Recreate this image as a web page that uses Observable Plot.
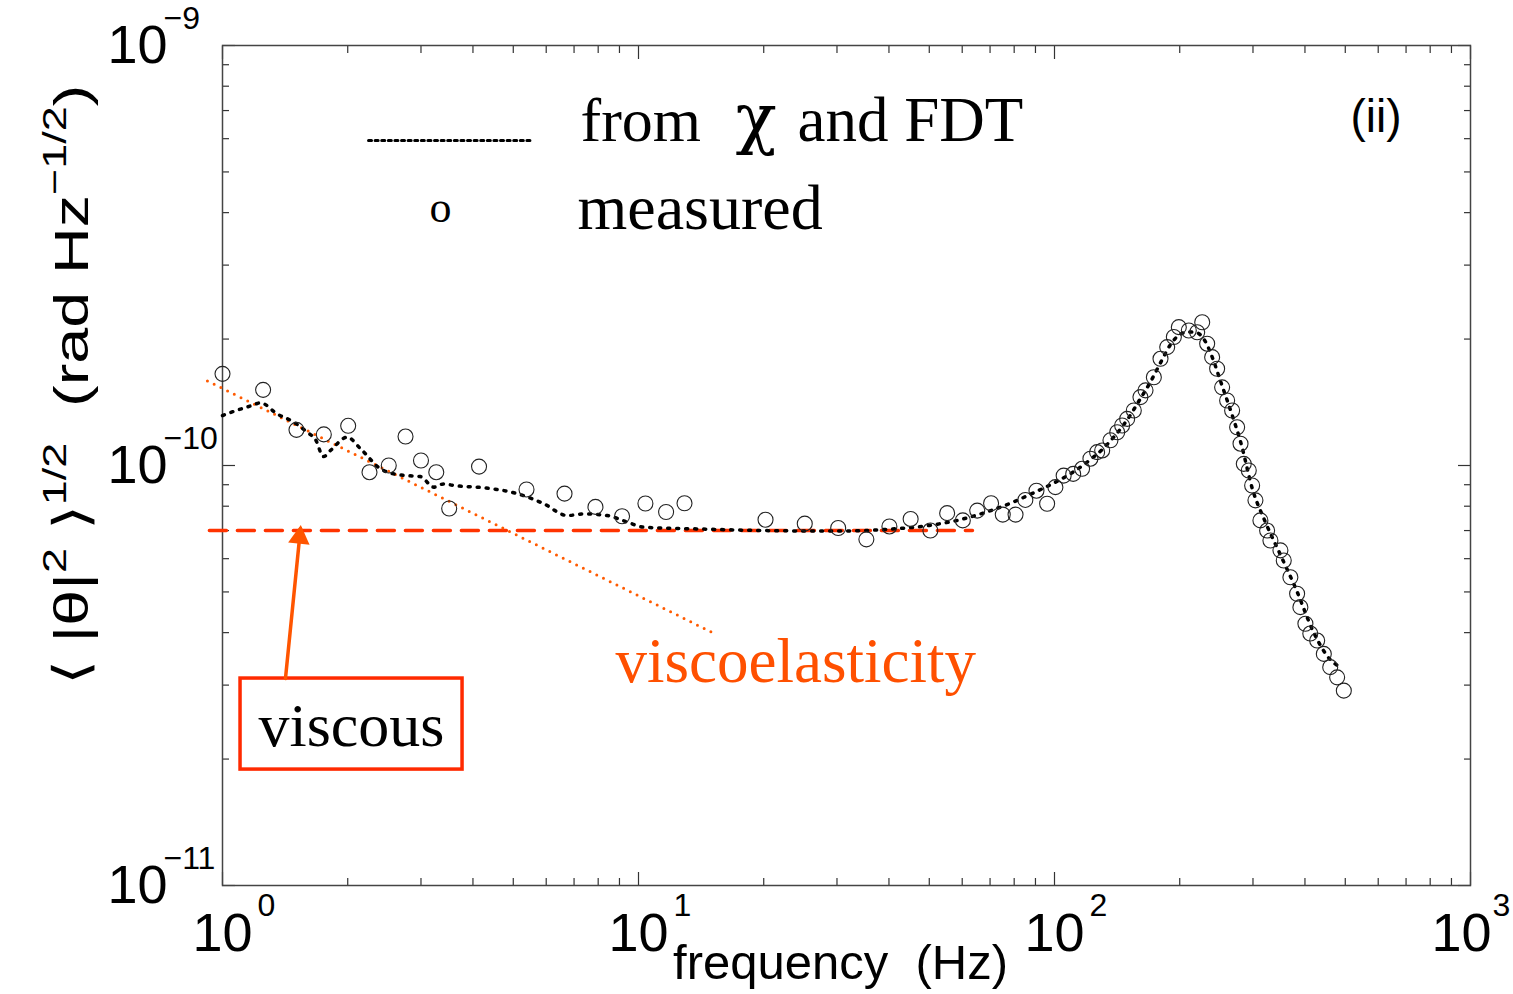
<!DOCTYPE html>
<html><head><meta charset="utf-8">
<script src="https://cdn.jsdelivr.net/npm/d3@7"></script>
<script src="https://cdn.jsdelivr.net/npm/@observablehq/plot@0.6"></script>
<style>body{margin:0;background:#fff}#chart{width:1513px;height:994px}</style>
</head><body><div id="chart"></div>
<script>
// measured spectrum (open circles)
const measuredFreq = [1.0,1.252,1.506,1.752,2.005,2.256,2.51,2.754,3.0,3.265,3.507,4.137,5.38,6.64,7.88,9.13,10.39,11.65,12.9,
  20.2,25.1,30.2,35.3,40.1,45.1,50.3,55.2,60.2,65.2,70.4,75.1,80.6,85.1,90.5,96,100.5,105.2,110.9,116.5,122,126.6,
  130.2,136.3,141.5,145.4,149.5,155.1,160.9,165.5,173.3,179.8,186.6,193.6,199,210.3,220.3,226.5,232.8,239.3,246,252.9,
  260,267.3,274.8,280,285.1,293.1,298.6,304.1,312.6,324.4,330.4,349.2,355.7,369,383,390,401,412,428,444,460,478,496];
const measuredAmp = [1.653e-10,1.514e-10,1.216e-10,1.186e-10,1.243e-10,9.64e-11,1.0e-10,1.172e-10,1.028e-10,9.64e-11,7.9e-11,9.94e-11,8.77e-11,8.57e-11,7.97e-11,7.57e-11,8.12e-11,7.75e-11,8.13e-11,
  7.43e-11,7.27e-11,7.1e-11,6.67e-11,7.16e-11,7.46e-11,7.0e-11,7.7e-11,7.4e-11,7.81e-11,8.13e-11,7.64e-11,7.64e-11,8.28e-11,8.71e-11,8.11e-11,8.88e-11,9.46e-11,9.55e-11,9.82e-11,1.038e-10,1.076e-10,
  1.086e-10,1.148e-10,1.2e-10,1.245e-10,1.291e-10,1.352e-10,1.455e-10,1.51e-10,1.622e-10,1.795e-10,1.914e-10,2.023e-10,2.135e-10,2.096e-10,2.076e-10,2.193e-10,1.95e-10,1.811e-10,1.7e-10,1.535e-10,
  1.428e-10,1.352e-10,1.233e-10,1.127e-10,1.009e-10,9.73e-11,8.96e-11,8.26e-11,7.4e-11,7.0e-11,6.63e-11,6.28e-11,5.94e-11,5.42e-11,4.95e-11,4.6e-11,4.2e-11,3.98e-11,3.83e-11,3.56e-11,3.31e-11,3.13e-11,2.91e-11];
// from chi and FDT (dotted black)
const theoryFreq = [1.0,1.065,1.179,1.234,1.353,1.484,1.598,1.673,1.749,1.818,1.994,2.147,2.398,2.581,2.78,2.99,3.22,3.40,3.6,4.25,5.11,5.92,6.74,7.39,8.41,9.4,10.3,14.1,
  20,30,40,50,60,70,80,90,100,110,120,130,140,150,160,170,180,190,200,210,220,230,240,250,260,270,280,300,320,350,380,420,460,490];
const theoryAmp = [1.315e-10,1.346e-10,1.39e-10,1.41e-10,1.327e-10,1.268e-10,1.2e-10,1.153e-10,1.05e-10,1.086e-10,1.168e-10,1.096e-10,9.82e-11,9.55e-11,9.46e-11,9.41e-11,8.88e-11,9.04e-11,8.96e-11,8.85e-11,8.57e-11,8.11e-11,7.6e-11,7.67e-11,7.6e-11,7.33e-11,7.13e-11,7.06e-11,
  7.0e-11,6.98e-11,7.05e-11,7.2e-11,7.45e-11,7.8e-11,8.2e-11,8.65e-11,9.1e-11,9.6e-11,1.02e-10,1.09e-10,1.18e-10,1.29e-10,1.43e-10,1.58e-10,1.76e-10,1.94e-10,2.05e-10,2.08e-10,2.07e-10,1.98e-10,1.8e-10,1.6e-10,1.43e-10,1.28e-10,1.14e-10,8.7e-11,7.4e-11,6.1e-11,5.1e-11,4.0e-11,3.45e-11,3.3e-11];
// viscous level (red dashed) and viscoelastic power law (orange dotted)
const viscousFreq = [0.93, 63.5];
const viscousAmp = [7.0e-11, 7.0e-11];
const viscoFreq = [0.92, 15.06];
const viscoAmp = [1.59e-10, 4.0e-11];
// axis ticks
const xMajor = [1, 10, 100, 1000];
const xExp = ["0", "1", "2", "3"];
const xMinor = [1, 10, 100].flatMap(d => [2,3,4,5,6,7,8,9].map(k => k * d));
const yMajor = [1e-11, 1e-10, 1e-9];
const yExp = ["\u221211", "\u221210", "\u22129"];
const yMinor = [1e-11, 1e-10].flatMap(d => [2,3,4,5,6,7,8,9].map(k => k * d));
// annotations (data units)
const legendLineFreq = [2.244, 5.5];
const legendLineAmp = [5.94e-10, 5.94e-10];
const labels = [
  {f: 7.255, a: 5.94e-10, t: "from", size: 62, anchor: "start", color: "#000", font: "'Liberation Serif', serif"},
  {f: 17.11, a: 5.94e-10, t: "\u03c7", size: 68, anchor: "start", color: "#000", font: "'DejaVu Serif', serif"},
  {f: 24.11, a: 5.94e-10, t: "and FDT", size: 63, anchor: "start", color: "#000", font: "'Liberation Serif', serif"},
  {f: 3.342, a: 3.79e-10, t: "o", size: 44, anchor: "middle", color: "#000", font: "'Liberation Serif', serif"},
  {f: 7.135, a: 3.665e-10, t: "measured", size: 64, anchor: "start", color: "#000", font: "'Liberation Serif', serif"},
  {f: 514.5, a: 6.21e-10, t: "(ii)", size: 46, anchor: "start", color: "#000", font: "'Liberation Sans', sans-serif"},
  {f: 2.042, a: 2.154e-11, t: "viscous", size: 62, anchor: "middle", color: "#000", font: "'Liberation Serif', serif"},
  {f: 8.806, a: 3.044e-11, t: "viscoelasticity", size: 63, anchor: "start", color: "#ff5000", font: "'Liberation Serif', serif"}
];
const boxes = [{x1: 1.105, x2: 3.776, y1: 3.11e-11, y2: 1.888e-11}];
const arrows = [{x1: 1.417, y1: 3.11e-11, x2: 1.54, y2: 7.08e-11}];

const measured = measuredFreq.map((f, i) => ({f, a: measuredAmp[i]}));
const theory = theoryFreq.map((f, i) => ({f, a: theoryAmp[i]}));
const viscous = viscousFreq.map((f, i) => ({f, a: viscousAmp[i]}));
const visco = viscoFreq.map((f, i) => ({f, a: viscoAmp[i]}));
const legendLine = legendLineFreq.map((f, i) => ({f, a: legendLineAmp[i]}));

const sans = "'Liberation Sans', Arial, sans-serif";
const axisStyle = {tickFormat: () => "", label: null, stroke: "#333", strokeWidth: 1.2};
const notLast = (d, i) => i < xMajor.length - 1;
const isLast = (d, i) => i === xMajor.length - 1;

const plot = Plot.plot({
  width: 1513, height: 994,
  marginLeft: 222, marginRight: 43, marginTop: 45, marginBottom: 109,
  x: {type: "log", domain: [1, 1000]},
  y: {type: "log", domain: [1e-11, 1e-9]},
  style: {background: "#fff", fontFamily: sans},
  marks: [
    Plot.axisX({anchor: "bottom", ticks: xMajor, tickSize: -13, ...axisStyle}),
    Plot.axisX({anchor: "top", ticks: xMajor, tickSize: -13, ...axisStyle}),
    Plot.axisX({anchor: "bottom", ticks: xMinor, tickSize: -7, ...axisStyle}),
    Plot.axisX({anchor: "top", ticks: xMinor, tickSize: -7, ...axisStyle}),
    Plot.axisY({anchor: "left", ticks: yMajor, tickSize: -13, ...axisStyle}),
    Plot.axisY({anchor: "right", ticks: yMajor, tickSize: -13, ...axisStyle}),
    Plot.axisY({anchor: "left", ticks: yMinor, tickSize: -7, ...axisStyle}),
    Plot.axisY({anchor: "right", ticks: yMinor, tickSize: -7, ...axisStyle}),
    Plot.frame({stroke: "#444", strokeWidth: 1.5}),
    // tick labels
    Plot.text(xMajor, {filter: notLast, x: d => d, text: () => "10", frameAnchor: "bottom", dy: 65, lineAnchor: "bottom", textAnchor: "middle", fontSize: 54, fill: "#000"}),
    Plot.text(xMajor, {filter: notLast, x: d => d, text: (d, i) => xExp[i], frameAnchor: "bottom", dy: 30, dx: 35, lineAnchor: "bottom", textAnchor: "start", fontSize: 32, fill: "#000"}),
    Plot.text(xMajor, {filter: isLast, x: d => d, text: () => "10", frameAnchor: "bottom", dy: 65, dx: -9, lineAnchor: "bottom", textAnchor: "middle", fontSize: 54, fill: "#000"}),
    Plot.text(xMajor, {filter: isLast, x: d => d, text: (d, i) => xExp[i], frameAnchor: "bottom", dy: 30, dx: 22, lineAnchor: "bottom", textAnchor: "start", fontSize: 32, fill: "#000"}),
    Plot.text(yMajor, {y: d => d, text: () => "10", frameAnchor: "left", dx: -115, lineAnchor: "middle", textAnchor: "start", fontSize: 54, fill: "#000"}),
    Plot.text(yMajor, {y: d => d, text: (d, i) => yExp[i], frameAnchor: "left", dx: -59, dy: -27, lineAnchor: "middle", textAnchor: "start", fontSize: 32, fill: "#000"}),
    Plot.text(["frequency  (Hz)"], {frameAnchor: "bottom", dy: 93, dx: -6, lineAnchor: "bottom", textAnchor: "middle", fontSize: 49, fill: "#000"}),
    // data
    Plot.line(viscous, {x: "f", y: "a", stroke: "#ff3300", strokeWidth: 3.5, strokeDasharray: "17,11"}),
    Plot.line(visco, {x: "f", y: "a", stroke: "#ff5a00", strokeWidth: 3, strokeDasharray: "0,7.5", strokeLinecap: "round"}),
    Plot.line(theory, {x: "f", y: "a", stroke: "#000", strokeWidth: 3.5, strokeDasharray: "2,7", curve: "monotone-x"}),
    Plot.dot(measured, {x: "f", y: "a", r: 7.5, stroke: "#222", strokeWidth: 1.1, fill: "none"}),
    // legend
    Plot.line(legendLine, {x: "f", y: "a", stroke: "#000", strokeWidth: 3, strokeDasharray: "3,3.6"}),
    // annotations
    Plot.rect(boxes, {x1: "x1", x2: "x2", y1: "y1", y2: "y2", stroke: "#ff2a00", strokeWidth: 3.5, fill: "none"}),
    Plot.arrow(arrows, {x1: "x1", y1: "y1", x2: "x2", y2: "y2", stroke: "#ff5500", strokeWidth: 3.5, headLength: 0}),
    Plot.dot(arrows, {x: "x2", y: "y2", symbol: "triangle", r: 8, fill: "#ff5500", stroke: "none", rotate: 6, dy: 9, dx: -1}),
    ...labels.map(l => Plot.text([l], {x: "f", y: "a", text: "t", fontSize: l.size, textAnchor: l.anchor, lineAnchor: "bottom", fill: l.color, fontFamily: l.font}))
  ]
});
document.getElementById("chart").appendChild(plot);

// rotated y-axis label with superscripts
const svg = d3.select(plot);
const yl = svg.append("text")
  .attr("transform", "translate(88,385) rotate(-90) scale(1.32,1)")
  .attr("text-anchor", "middle")
  .attr("fill", "#000")
  .style("font-family", sans)
  .style("font-size", "49px");
yl.append("tspan").text("\u27e8 |\u03b8|");
yl.append("tspan").attr("dy", -22).style("font-size", "34px").text("2");
yl.append("tspan").attr("dy", 22).text(" \u27e9");
yl.append("tspan").attr("dy", -22).style("font-size", "34px").text("1/2");
yl.append("tspan").attr("dy", 22).text("  (rad Hz");
yl.append("tspan").attr("dy", -22).style("font-size", "34px").text("\u22121/2");
yl.append("tspan").attr("dy", 22).text(")");
</script>
</body></html>
